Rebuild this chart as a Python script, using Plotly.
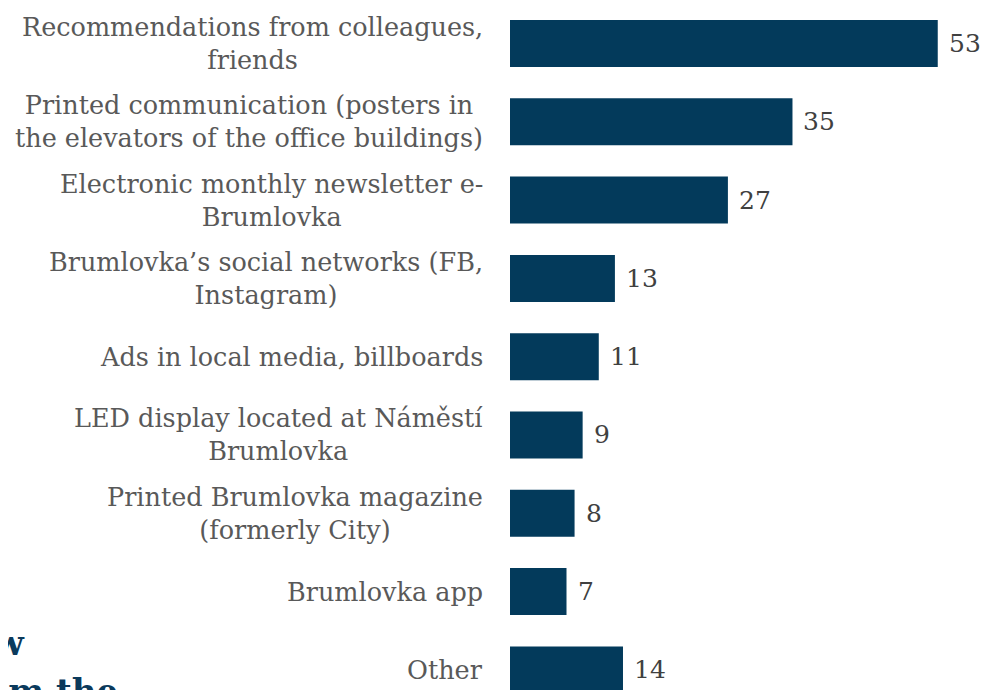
import plotly.graph_objects as go

categories = [
    "Recommendations from colleagues,<br>friends",
    "Printed communication (posters in<br>the elevators of the office buildings)",
    "Electronic monthly newsletter e-<br>Brumlovka",
    "Brumlovka’s social networks (FB,<br>Instagram)",
    "Ads in local media, billboards",
    "LED display located at Náměstí<br>Brumlovka",
    "Printed Brumlovka magazine<br>(formerly City)",
    "Brumlovka app",
    "Other",
]
values = [53, 35, 27, 13, 11, 9, 8, 7, 14]

BAR = "#033a5b"
LABEL = "#595959"
FONT = "DejaVu Serif"

idx = list(range(len(categories)))

fig = go.Figure()
fig.add_trace(go.Bar(
    x=values, y=idx, orientation="h",
    marker=dict(color=BAR, line=dict(width=0)),
    width=0.6,
))

for i, c in enumerate(categories):
    fig.add_annotation(
        x=0, xref="paper", y=i, yref="y", text=c, showarrow=False,
        xanchor="right", yanchor="middle", align="center", xshift=-25,
        font=dict(family=FONT, size=25.5, color=LABEL),
    )

for i, v in enumerate(values):
    fig.add_annotation(
        x=v, xref="x", y=i, yref="y", text=str(v), showarrow=False,
        xanchor="left", yanchor="middle", xshift=9,
        font=dict(family=FONT, size=25, color="#404040"),
    )

# cut-off heading at bottom-left
fig.add_annotation(x=0, xref="paper", y=0, yref="paper", text="how", showarrow=False,
                   xanchor="right", yanchor="bottom", yshift=33, xshift=-484,
                   font=dict(family=FONT, size=34, color="#0b3a5c", weight="bold"))
fig.add_annotation(x=0, xref="paper", y=0, yref="paper", text="from the", showarrow=False,
                   xanchor="right", yanchor="bottom", yshift=-15, xshift=-390,
                   font=dict(family=FONT, size=34, color="#0b3a5c", weight="bold"))

fig.update_layout(
    width=1004, height=690,
    margin=dict(l=502, r=0, t=0, b=0),
    paper_bgcolor="white", plot_bgcolor="white",
    showlegend=False,
    xaxis=dict(range=[0, 62.2], visible=False),
    yaxis=dict(range=[8.359, -0.4534], visible=False),
)
fig.write_html("out.html")
